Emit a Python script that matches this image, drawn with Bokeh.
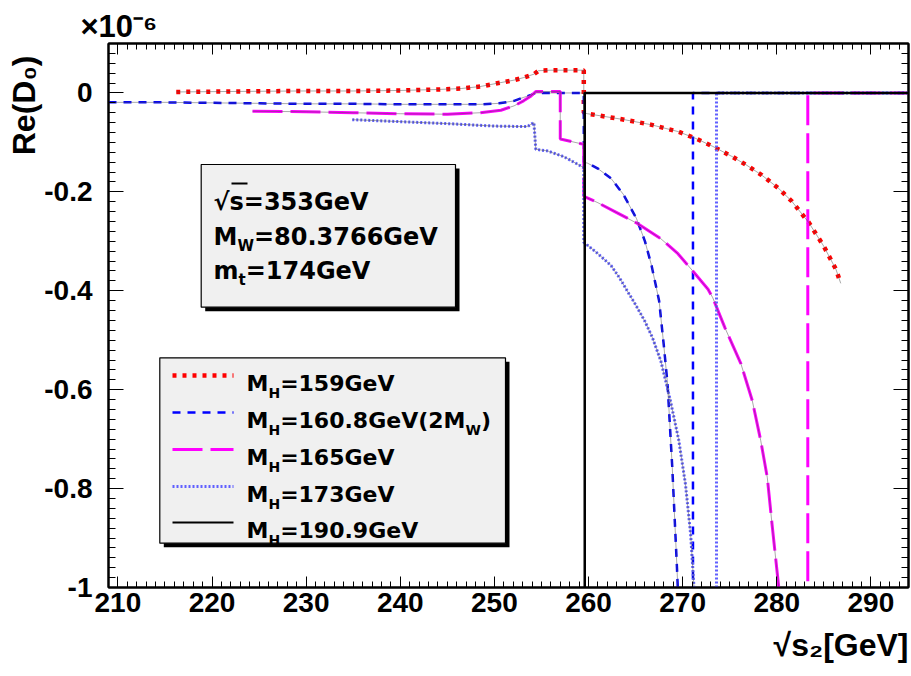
import math
from bokeh.plotting import figure
from bokeh.models import (Range1d, LinearAxis, FixedTicker, CustomJSTickFormatter,
                          Label, BoxAnnotation, Arrow, Title)
from bokeh.embed import file_html
from bokeh.resources import INLINE

# ---------------- data ----------------
# Re(D0) in units of 1e-6 versus sqrt(s2) [GeV]
MH159_X = [216.2, 222.0, 229.4, 235.0, 240.0, 244.0, 246.5, 248.5, 250.7, 252.1, 253.1,
           254.2, 254.7, 256.0, 259.5, 259.5, 259.9, 263.8, 266.6, 269.5, 271.4, 273.2,
           275.2, 276.8, 278.4, 280.2, 281.6, 283.4, 285.0, 286.3, 286.8]
MH159_Y = [0.002, 0.003, 0.004, 0.004, 0.005, 0.007, 0.009, 0.013, 0.021, 0.026, 0.031,
           0.038, 0.045, 0.046, 0.046, -0.040, -0.042, -0.054, -0.064, -0.078, -0.092, -0.108,
           -0.128, -0.146, -0.166, -0.193, -0.219, -0.262, -0.310, -0.357, -0.385]

MH160_X = [209.0, 215.0, 220.0, 225.0, 230.0, 235.0, 240.0, 245.0, 248.5, 250.5, 252.1,
           253.1, 253.9, 254.4, 255.5, 259.5, 259.5, 259.9, 261.0, 262.4, 263.7, 265.1,
           266.0, 266.7, 267.5, 268.0, 268.4, 268.9, 269.4, 269.7, 270.5, 271.1, 271.1, 294.0]
MH160_Y = [-0.019, -0.019, -0.020, -0.021, -0.022, -0.022, -0.023, -0.023, -0.023, -0.021, -0.016,
           -0.009, -0.004, 0.000, 0.000, 0.000, -0.140, -0.142, -0.153, -0.173, -0.205, -0.254,
           -0.300, -0.349, -0.420, -0.510, -0.589, -0.757, -0.960, -1.100, -2.000, -3.000, 0.000, 0.000]

MH165_X = [224.3, 230.0, 235.0, 240.0, 245.0, 248.5, 250.7, 252.1, 253.1, 253.9, 254.4,
           257.0, 257.0, 259.5, 259.5, 261.0, 263.0, 265.2, 267.7, 269.5, 270.9, 272.7,
           273.2, 274.5, 276.2, 277.4, 278.3, 279.0, 279.5, 280.2, 281.0, 283.3, 283.3, 294.0]
MH165_Y = [-0.037, -0.038, -0.040, -0.042, -0.043, -0.040, -0.035, -0.026, -0.016, -0.006, 0.003,
           0.003, -0.093, -0.104, -0.209, -0.222, -0.242, -0.264, -0.295, -0.325, -0.356, -0.397,
           -0.414, -0.475, -0.548, -0.622, -0.703, -0.778, -0.872, -0.997, -1.300, -3.000, 0.000, 0.000]

MH173_X = [234.9, 240.0, 245.0, 250.0, 253.5, 254.2, 254.4, 255.6, 257.4, 259.5, 259.5,
           261.0, 262.4, 263.3, 264.2, 265.0, 266.0, 266.8, 267.7, 268.7, 269.6, 270.3,
           270.85, 271.2, 272.0, 273.6, 273.6, 294.0]
MH173_Y = [-0.054, -0.058, -0.062, -0.067, -0.068, -0.060, -0.114, -0.117, -0.129, -0.151, -0.302,
           -0.325, -0.349, -0.374, -0.403, -0.428, -0.462, -0.495, -0.543, -0.622, -0.703, -0.791,
           -0.892, -0.997, -1.500, -3.000, 0.000, 0.000]

MH190_X = [259.6, 259.6, 294.0]
MH190_Y = [-3.000, 0.000, 0.000]

X_TICKS = [210, 220, 230, 240, 250, 260, 270, 280, 290]
X_TICK_LABELS = ["210", "220", "230", "240", "250", "260", "270", "280", "290"]
Y_TICKS = [-1.0, -0.8, -0.6, -0.4, -0.2, 0.0]
Y_TICK_LABELS = ["-1", "-0.8", "-0.6", "-0.4", "-0.2", "0"]
X_MINOR = list(range(209, 295))
Y_MINOR = [round(-1.0 + 0.02 * i, 2) for i in range(56)]

X_TITLE = "\u221as\u2082[GeV]"
Y_TITLE = "Re(D\u2080)"
Y_SCALE = "\u00d710\u207b\u2076"

INFO_LINES = [[("\u221as=353GeV", 0)],
              [("M", 0), ("W", 1), ("=80.3766GeV", 0)],
              [("m", 0), ("t", 1), ("=174GeV", 0)]]

LEGEND_PARTS = [[("M", 0), ("H", 1), ("=159GeV", 0)],
                [("M", 0), ("H", 1), ("=160.8GeV(2M", 0), ("W", 1), (")", 0)],
                [("M", 0), ("H", 1), ("=165GeV", 0)],
                [("M", 0), ("H", 1), ("=173GeV", 0)],
                [("M", 0), ("H", 1), ("=190.9GeV", 0)]]

# ---------------- layout ----------------
W, H = 910, 676
ML, MR, MT, MB = 108, 2, 43, 89
X0, X1 = 209.0, 294.0
Y0, Y1 = -1.0, 0.1
FW = W - ML - MR
FH = H - MT - MB


def dx(px):  # picture pixel -> data x
    return X0 + (px - ML) * (X1 - X0) / FW


def dy(py):  # picture pixel -> data y
    return Y1 - (py - MT) * (Y1 - Y0) / FH


DV = {'M': 0.996, 'H': 0.837, 'W': 1.103, '=': 0.838, '.': 0.381, '(': 0.457, ')': 0.457,
      'G': 0.821, 'e': 0.678, 'V': 0.774, 's': 0.595, 'm': 1.042, 't': 0.478, '\u221a': 0.838}


def twidth(s, size):
    return sum(DV.get(c, 0.696) for c in s) * size


p = figure(width=W, height=H, x_range=Range1d(X0, X1), y_range=Range1d(Y0, Y1),
           output_backend="svg", toolbar_location=None,
           x_axis_type=None, y_axis_type=None,
           min_border_left=ML, min_border_right=MR, min_border_top=MT, min_border_bottom=MB)
p.background_fill_color = "white"
p.border_fill_color = "white"
p.outline_line_color = "black"
p.outline_line_width = 2


def fmt(ticks, labels):
    return CustomJSTickFormatter(args=dict(tvals=ticks, tlabs=labels), code="""
        for (let i = 0; i < tvals.length; i++) {
            if (Math.abs(tvals[i] - tick) < 1e-6) return tlabs[i];
        }
        return '';""")


blank = CustomJSTickFormatter(code="return '';")


def axis(ticker, formatter, tin, mtin, standoff, size="28px"):
    return LinearAxis(ticker=ticker, formatter=formatter,
                      axis_line_color="black", axis_line_width=2,
                      major_tick_in=tin, major_tick_out=0,
                      minor_tick_in=mtin, minor_tick_out=0,
                      major_tick_line_color="black", minor_tick_line_color="black",
                      major_tick_line_width=1, minor_tick_line_width=1,
                      major_label_standoff=standoff,
                      major_label_text_font="Liberation Sans",
                      major_label_text_font_style="bold",
                      major_label_text_font_size=size,
                      major_label_text_color="black")


xt = FixedTicker(ticks=X_TICKS, minor_ticks=X_MINOR)
yt = FixedTicker(ticks=Y_TICKS, minor_ticks=Y_MINOR)
p.add_layout(axis(xt, fmt(X_TICKS, X_TICK_LABELS), 11, 6, 5), "below")
p.add_layout(axis(yt, fmt(Y_TICKS, Y_TICK_LABELS), 15, 7, 16), "left")
p.add_layout(axis(xt, blank, 11, 6, 0, "1px"), "above")
p.add_layout(axis(yt, blank, 15, 7, 0, "1px"), "right")

# axis titles (outside the frame)
p.add_layout(Title(text=X_TITLE, align="right", text_font="Liberation Sans",
                   text_font_style="bold", text_font_size="32px", text_color="black",
                   standoff=20), "below")
p.add_layout(Title(text=Y_TITLE, align="right", offset=12, text_font="Liberation Sans",
                   text_font_style="bold", text_font_size="32px", text_color="black",
                   standoff=0), "left")
p.add_layout(Title(text=Y_SCALE, align="left", offset=-28, text_font="Liberation Sans",
                   text_font_style="bold", text_font_size="31px", text_color="black",
                   standoff=0), "above")

# ---------------- curves ----------------
STYLES = [
    (MH159_X, MH159_Y, "#ff0000", 4.5, "4 6"),
    (MH160_X, MH160_Y, "#0000ff", 2.5, "8 7"),
    (MH165_X, MH165_Y, "#ff00ff", 3.0, "30 8"),
    (MH173_X, MH173_Y, "#6060ff", 3.0, "2 2"),
]


def upto_bottom(xs, ys):
    """portion of a curve up to where it leaves the frame at the bottom"""
    for i, v in enumerate(ys):
        if v < Y0:
            return xs[:i + 1], ys[:i + 1]
    return xs, ys


for xs, ys, c, w, d in STYLES:
    p.line(xs, ys, line_color=c, line_width=w, line_dash=d)
for xs, ys, c, w, d in STYLES:
    tx, ty = upto_bottom(xs, ys)
    p.line(tx, ty, line_color="#505050", line_width=0.7, line_alpha=0.7)
p.line(MH190_X, MH190_Y, line_color="black", line_width=2.5)

LEG_STYLES = [("#ff0000", 4.5, "4 6"), ("#0000ff", 2.5, "8 7"), ("#ff00ff", 3.0, "30 8"),
              ("#6060ff", 3.0, "2 2"), ("black", 2.0, "solid")]


# ---------------- text helpers ----------------
def label(s, px, py, size, font="DejaVu Sans"):
    p.add_layout(Label(x=dx(px), y=dy(py), text=s, text_font=font,
                       text_font_size=f"{size}px", text_font_style="bold",
                       text_color="black", text_align="left",
                       text_baseline="alphabetic"))


def run(parts, px, py, size, subsize, subshift):
    x = px
    for s, sub in parts:
        if sub:
            label(s, x, py + subshift, subsize)
            x += twidth(s, subsize)
        else:
            label(s, x, py, size)
            x += twidth(s, size)


def seg(x1, y1, x2, y2, color="black", width=2.0, dash="solid"):
    p.add_layout(Arrow(x_start=dx(x1), y_start=dy(y1), x_end=dx(x2), y_end=dy(y2),
                       start=None, end=None, line_color=color, line_width=width,
                       line_dash=dash))


def box(l, t, r, b, shadow=4):
    p.add_layout(BoxAnnotation(left=dx(l + shadow), right=dx(r + shadow),
                               top=dy(t + shadow), bottom=dy(b + shadow),
                               fill_color="black", fill_alpha=1.0, line_alpha=0.0))
    p.add_layout(BoxAnnotation(left=dx(l), right=dx(r), top=dy(t), bottom=dy(b),
                               fill_color="#f0f0f0", fill_alpha=1.0,
                               line_color="black", line_width=1.2, line_alpha=1.0))


# info box
box(200.7, 164, 455, 306.7)
for parts, base in zip(INFO_LINES, [201, 236, 270]):
    run(parts, 213, base, 24, 15, 9)
seg(231, 183, 247, 183, width=1.8)

# legend
box(159.3, 357.3, 505, 542.7)
for (c, w, d), parts, base in zip(LEG_STYLES, LEGEND_PARTS, [383, 420, 457, 494, 530]):
    seg(172, base - 8, 233, base - 8, color=c, width=w, dash=d)
    run(parts, 246, base, 22, 14, 9)

open("out.html", "w").write(file_html(p, INLINE))
